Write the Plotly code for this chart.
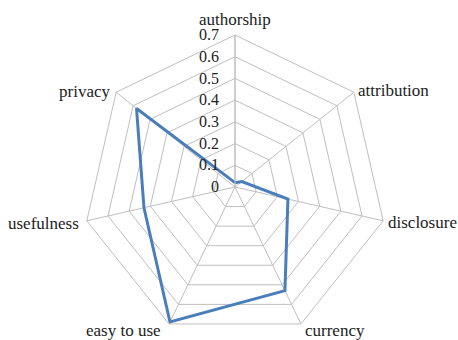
import math
import plotly.graph_objects as go

categories = ["authorship", "attribution", "disclosure", "currency", "easy to use", "usefulness", "privacy"]
values = [0.02, 0.04, 0.25, 0.53, 0.69, 0.43, 0.58]
radial_ticks = [0, 0.1, 0.2, 0.3, 0.4, 0.5, 0.6, 0.7]
radial_ticklabels = ["0", "0.1", "0.2", "0.3", "0.4", "0.5", "0.6", "0.7"]

W, H = 458, 340
CX, CY, RAD = 235, 187, 152  # polar centre / radius in figure pixels
L, Rm, T, B = CX - RAD, W - CX - RAD, CY - RAD, H - CY - RAD

# label placement beside each vertex: (xanchor, yanchor, dx, dy) in pixels
label_place = [
    ("center", "bottom", 0, -4),
    ("left", "middle", 2, -2),
    ("left", "middle", 3, 2),
    ("left", "middle", 2, 7),
    ("right", "middle", -6, 7),
    ("right", "middle", -6, 3),
    ("right", "middle", -4, -1),
]

fig = go.Figure()
fig.add_trace(go.Scatterpolar(
    r=values + values[:1],
    theta=categories + categories[:1],
    mode="lines",
    line=dict(color="#4A7EBB", width=3),
    showlegend=False,
    hoverinfo="skip",
))

pw, ph = W - L - Rm, H - T - B
annotations = []
n = len(categories)
for i, name in enumerate(categories):
    th = math.radians(i * 360 / n)
    vx = CX + RAD * math.sin(th)
    vy = CY - RAD * math.cos(th)
    xa, ya, dx, dy = label_place[i]
    px, py = vx + dx, vy + dy
    annotations.append(dict(
        x=(px - L) / pw, y=(H - B - py) / ph,
        xref="paper", yref="paper", text=name, showarrow=False,
        xanchor=xa, yanchor=ya,
        font=dict(size=17, family="Liberation Serif", color="#222222"),
    ))

fig.update_layout(
    width=W, height=H,
    margin=dict(l=L, r=Rm, t=T, b=B),
    paper_bgcolor="white",
    plot_bgcolor="white",
    font=dict(family="Liberation Serif", color="#222222"),
    annotations=annotations,
    polar=dict(
        bgcolor="white",
        gridshape="linear",
        domain=dict(x=[0, 1], y=[0, 1]),
        angularaxis=dict(
            direction="clockwise",
            rotation=90,
            showline=True,
            linecolor="#BFBFBF",
            linewidth=1,
            gridcolor="#BFBFBF",
            gridwidth=1,
            ticks="",
            showticklabels=False,
        ),
        radialaxis=dict(
            range=[0, 0.7],
            tickvals=radial_ticks,
            ticktext=radial_ticklabels,
            angle=90,
            tickangle=90,
            side="counterclockwise",
            showline=True,
            linecolor="#BFBFBF",
            gridcolor="#BFBFBF",
            gridwidth=1,
            ticks="outside",
            ticklen=10,
            tickcolor="rgba(0,0,0,0)",
            tickfont=dict(size=16, family="Liberation Serif", color="#222222"),
        ),
    ),
)

fig.write_html(
    "out.html",
    config={"displayModeBar": False},
    post_script="document.body.style.margin='0';document.body.style.overflow='hidden';",
)
